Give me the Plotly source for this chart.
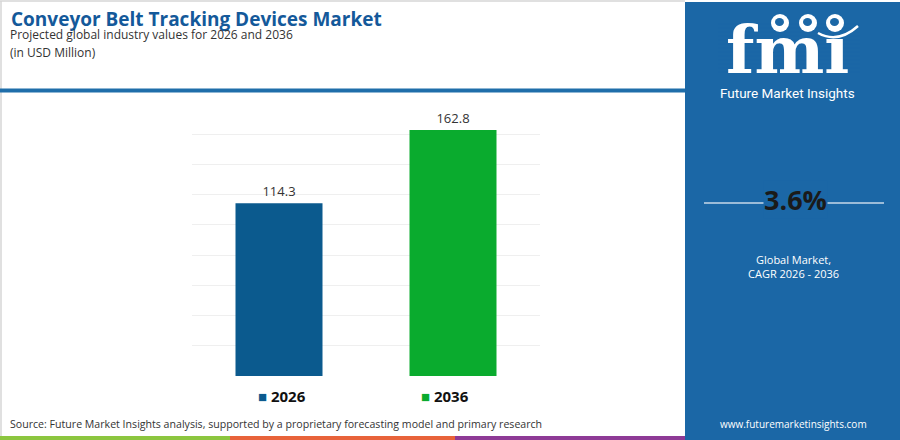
import plotly.graph_objects as go

# chart data
years = ["2026", "2036"]
values = [114.3, 162.8]
bar_colors = ["#0b5a8e", "#0aab2e"]
cagr = "3.6%"
cagr_label = "Global Market,<br>CAGR 2026 - 2036"

title = "Conveyor Belt Tracking Devices Market"
subtitle = "Projected global industry values for 2026 and 2036"
unit = "(in USD Million)"
source = "Source: Future Market Insights analysis, supported by a proprietary forecasting model and primary research"

PANEL = "#1b67a6"
FONT = "Open Sans"


def px(xp):
    # page pixel -> paper x (plot area spans 192..540)
    return (xp - 192) / 348


def py(yp):
    # page pixel -> paper y (plot area spans 104..376)
    return (376 - yp) / 272


fig = go.Figure()
fig.add_trace(go.Bar(
    x=years,
    y=values,
    marker=dict(color=bar_colors, line=dict(width=0)),
    width=0.5,
    text=[f"{v:.1f}" for v in values],
    textposition="outside",
    textfont=dict(family=FONT, size=13, color="#333333"),
    cliponaxis=False,
    showlegend=False,
    hoverinfo="skip",
))

shapes = [
    dict(type="line", x0=px(0), x1=px(685), y0=py(1), y1=py(1),
         line=dict(color="#d6d6d6", width=1.5)),
    dict(type="line", x0=px(1), x1=px(1), y0=py(1), y1=py(436),
         line=dict(color="#d6d6d6", width=1.5)),
    dict(type="line", x0=px(0), x1=px(685), y0=py(90.5), y1=py(90.5),
         line=dict(color="#1f6eaa", width=4)),
    # bottom stripe
    dict(type="rect", x0=px(0), x1=px(230), y0=py(436), y1=py(441),
         fillcolor="#8cc63f", line=dict(width=0)),
    dict(type="rect", x0=px(230), x1=px(455), y0=py(436), y1=py(441),
         fillcolor="#e8633a", line=dict(width=0)),
    dict(type="rect", x0=px(455), x1=px(685), y0=py(436), y1=py(441),
         fillcolor="#8e3a96", line=dict(width=0)),
    # side panel
    dict(type="rect", x0=px(685), x1=px(901), y0=py(2), y1=py(441),
         fillcolor=PANEL, line=dict(width=0), layer="below"),
    dict(type="line", x0=px(704), x1=px(884), y0=py(203), y1=py(203),
         line=dict(color="#c9d9e8", width=1.5), layer="below"),
]

# stripes across the logo letters
for sy in range(24, 76, 4):
    shapes.append(dict(type="line", x0=px(718), x1=px(860),
                       y0=py(sy), y1=py(sy), line=dict(color=PANEL, width=1.2)))

# globes above the logo letters
for gx in [780, 808, 835]:
    shapes.append(dict(type="circle", x0=px(gx - 9), x1=px(gx + 9), y0=py(14), y1=py(32),
                       fillcolor="white", line=dict(width=0)))
    shapes.append(dict(type="circle", x0=px(gx - 5), x1=px(gx + 4), y0=py(18), y1=py(26),
                       fillcolor=PANEL, line=dict(width=0)))
shapes.append(dict(type="path",
                   path=f"M {px(818)} {py(33)} Q {px(838)} {py(44)} {px(858)} {py(26)}",
                   line=dict(color="white", width=2.5)))

for s in shapes:
    s.update(xref="paper", yref="paper")

annotations = [
    dict(text=f"<b>{title}</b>", x=px(9), y=py(19), xanchor="left", yanchor="middle",
         font=dict(family=FONT, size=19, color="#14599a")),
    dict(text=subtitle, x=px(8), y=py(34), xanchor="left", yanchor="middle",
         font=dict(family=FONT, size=12, color="#333333")),
    dict(text=unit, x=px(8), y=py(52), xanchor="left", yanchor="middle",
         font=dict(family=FONT, size=12, color="#333333")),
    dict(text=source, x=px(8), y=py(424), xanchor="left", yanchor="middle",
         font=dict(family=FONT, size=10.6, color="#333333")),
    # logo
    dict(text="<b>fmı</b>", x=px(787), y=py(50), xanchor="center", yanchor="middle",
         font=dict(family="DejaVu Serif", size=66, color="white")),
    dict(text="Future Market Insights", x=px(787), y=py(93), xanchor="center", yanchor="middle",
         font=dict(family="Roboto", size=13.5, color="white")),
    dict(text=f"<b>{cagr}</b>", x=px(795), y=py(199), xanchor="center", yanchor="middle",
         font=dict(family=FONT, size=27, color="#1a1a1a"), bgcolor=PANEL, borderpad=0),
    dict(text=cagr_label, x=px(793), y=py(266), xanchor="center", yanchor="middle",
         font=dict(family=FONT, size=11, color="white")),
    dict(text="www.futuremarketinsights.com", x=px(793), y=py(424), xanchor="center", yanchor="middle",
         font=dict(family=FONT, size=10, color="white")),
]

# legend built from the categories
legend_x = [258, 421]
for year, color, lx in zip(years, bar_colors, legend_x):
    annotations.append(dict(
        text=f"<span style='color:{color}'>■</span> <b>{year}</b>",
        x=px(lx - 2), y=py(396), xanchor="left", yanchor="middle",
        font=dict(family=FONT, size=15, color="#111111"),
    ))

for a in annotations:
    a.update(xref="paper", yref="paper", showarrow=False)

fig.update_layout(
    width=900,
    height=440,
    margin=dict(l=192, r=360, t=104, b=64),
    paper_bgcolor="white",
    plot_bgcolor="white",
    xaxis=dict(showticklabels=False, showgrid=False, zeroline=False, fixedrange=True),
    yaxis=dict(range=[0, 180], dtick=20, showticklabels=False, gridcolor="#efefef",
               gridwidth=1, zeroline=False, fixedrange=True),
    shapes=shapes,
    annotations=annotations,
    showlegend=False,
)

fig.write_html("out.html", config={"displayModeBar": False},
               post_script="document.body.style.margin='0';")
